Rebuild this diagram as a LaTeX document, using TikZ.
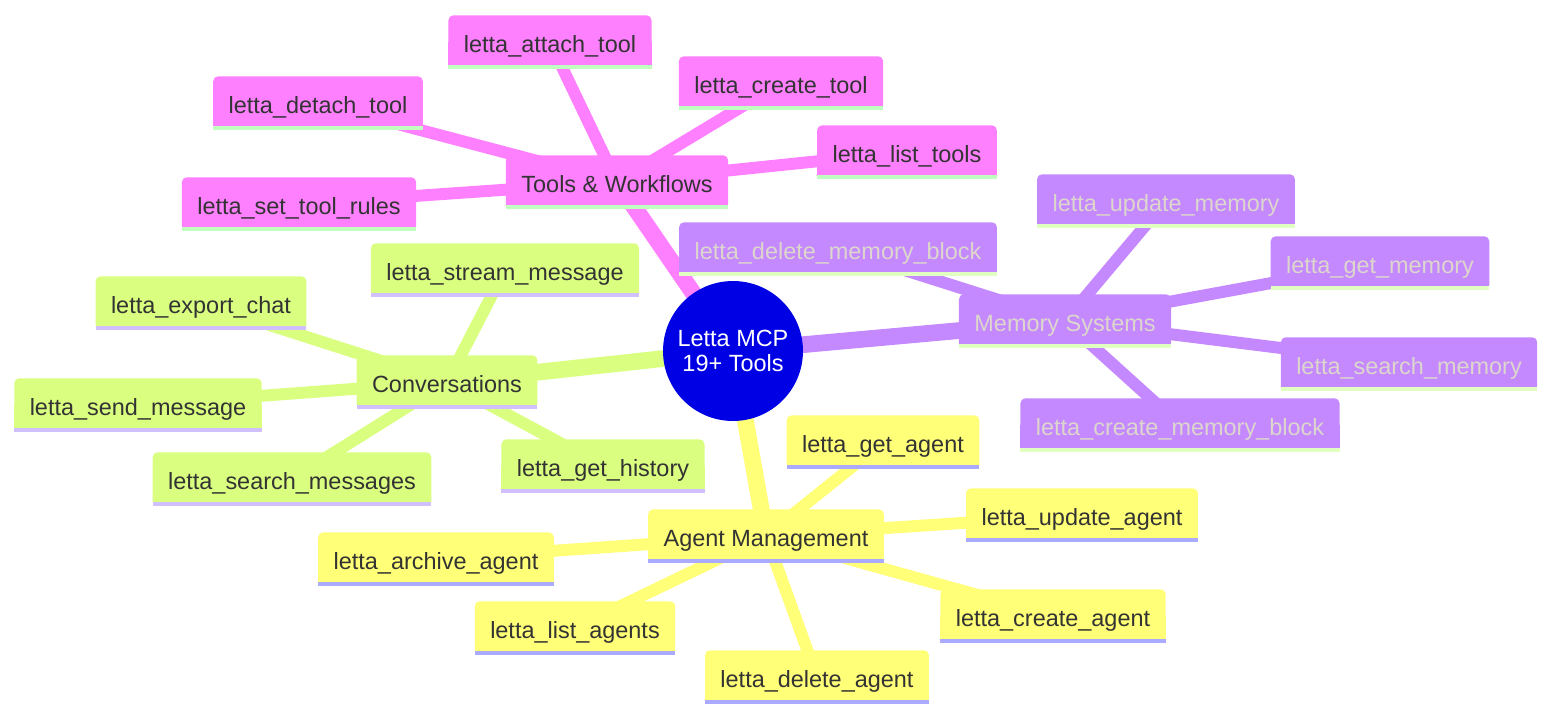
\documentclass[tikz,border=0pt]{standalone}
\usepackage{fontspec}
\setmainfont{Liberation Sans}
\usetikzlibrary{backgrounds}

\definecolor{toolfill}{RGB}{255,128,255}
\definecolor{toolline}{RGB}{192,255,192}
\definecolor{memfill}{RGB}{196,136,255}
\definecolor{memline}{RGB}{224,255,192}
\definecolor{memtext}{RGB}{221,214,204}
\definecolor{convfill}{RGB}{218,255,128}
\definecolor{convline}{RGB}{208,192,255}
\definecolor{agentfill}{RGB}{255,255,120}
\definecolor{agentline}{RGB}{170,170,255}
\definecolor{ink}{RGB}{51,51,51}
\definecolor{rootblue}{RGB}{0,0,228}

% box with rounded top and a coloured underline
\newcommand{\boxbg}[3]{%
  \fill[#2, rounded corners=2.8pt] (#1.south west) rectangle (#1.north east);
  \fill[#2] (#1.south west) rectangle (#1.east);
  \fill[#3] (#1.south west) rectangle ([yshift=2.3pt]#1.south east);
}

\begin{document}
\begin{tikzpicture}[
    x=0.02cm, y=-0.02cm,
    box/.style={rectangle, inner xsep=8.6pt, inner ysep=0pt, text height=20.8pt, text depth=9.2pt,
                font=\fontsize{13.35}{13.8}\selectfont, text=ink},
    membox/.style={box, text=memtext},
    hub/.style={circle, fill=rootblue, minimum size=2.8cm, inner sep=0pt, align=center,
                text=white, font=\fontsize{13.35}{14}\selectfont},
    branch/.style={line width=9.5pt},
    twig/.style={line width=6.8pt}
]
    \useasboundingbox (0,0) rectangle (1568,726);

    % Root
    \node[hub] (root) at (733,351) {Letta MCP\\19+ Tools};

    % Tools & Workflows
    \node[box] (tools) at (617,182) {Tools \& Workflows};
    \node[box] (attachtool) at (550,42) {letta\_attach\_tool};
    \node[box] (createtool) at (781,83) {letta\_create\_tool};
    \node[box] (detachtool) at (318,103) {letta\_detach\_tool};
    \node[box] (listtools) at (907,152) {letta\_list\_tools};
    \node[box] (settoolrules) at (299,204) {letta\_set\_tool\_rules};

    % Memory Systems
    \node[membox] (memory) at (1065,321) {Memory Systems};
    \node[membox] (updatememory) at (1166,201) {letta\_update\_memory};
    \node[membox] (deletememblock) at (838,249) {letta\_delete\_memory\_block};
    \node[membox] (getmemory) at (1380,263) {letta\_get\_memory};
    \node[membox] (searchmemory) at (1409,364) {letta\_search\_memory};
    \node[membox] (creatememblock) at (1180,425) {letta\_create\_memory\_block};

    % Conversations
    \node[box] (conv) at (447,382) {Conversations};
    \node[box] (streammsg) at (505,270) {letta\_stream\_message};
    \node[box] (exportchat) at (201,303) {letta\_export\_chat};
    \node[box] (sendmsg) at (138,405) {letta\_send\_message};
    \node[box] (searchmsgs) at (292,479) {letta\_search\_messages};
    \node[box] (gethistory) at (603,466) {letta\_get\_history};

    % Agent Management
    \node[box] (agents) at (766,536) {Agent Management};
    \node[box] (getagent) at (883,442) {letta\_get\_agent};
    \node[box] (updateagent) at (1082,515) {letta\_update\_agent};
    \node[box] (archiveagent) at (436,559) {letta\_archive\_agent};
    \node[box] (createagent) at (1053,616) {letta\_create\_agent};
    \node[box] (listagents) at (575,628) {letta\_list\_agents};
    \node[box] (deleteagent) at (817,677) {letta\_delete\_agent};

    \begin{pgfonlayer}{background}
        % Connections
        \draw[branch, toolfill] (root.center) -- (tools.center);
        \draw[branch, memfill] (root.center) -- (memory.center);
        \draw[branch, convfill] (root.center) -- (conv.center);
        \draw[branch, agentfill] (root.center) -- (agents.center);
        \foreach \n in {attachtool, createtool, detachtool, listtools, settoolrules}
            \draw[twig, toolfill] (tools.center) -- (\n.center);
        \foreach \n in {updatememory, deletememblock, getmemory, searchmemory, creatememblock}
            \draw[twig, memfill] (memory.center) -- (\n.center);
        \foreach \n in {streammsg, exportchat, sendmsg, searchmsgs, gethistory}
            \draw[twig, convfill] (conv.center) -- (\n.center);
        \foreach \n in {getagent, updateagent, archiveagent, createagent, listagents, deleteagent}
            \draw[twig, agentfill] (agents.center) -- (\n.center);

        % Boxes
        \foreach \n in {tools, attachtool, createtool, detachtool, listtools, settoolrules}
            {\boxbg{\n}{toolfill}{toolline}}
        \foreach \n in {memory, updatememory, deletememblock, getmemory, searchmemory, creatememblock}
            {\boxbg{\n}{memfill}{memline}}
        \foreach \n in {conv, streammsg, exportchat, sendmsg, searchmsgs, gethistory}
            {\boxbg{\n}{convfill}{convline}}
        \foreach \n in {agents, getagent, updateagent, archiveagent, createagent, listagents, deleteagent}
            {\boxbg{\n}{agentfill}{agentline}}
    \end{pgfonlayer}
\end{tikzpicture}
\end{document}
